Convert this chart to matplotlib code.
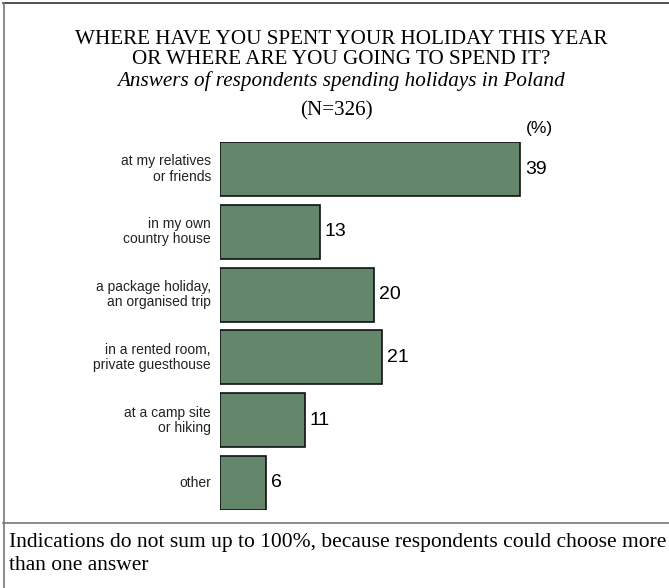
import matplotlib.pyplot as plt
from matplotlib.lines import Line2D

# survey answers, percent of respondents
answers = ['at my relatives\nor friends',
           'in my own\ncountry house',
           'a package holiday,\nan organised trip',
           'in a rented room,\nprivate guesthouse',
           'at a camp site\nor hiking',
           'other']
percent = [39, 13, 20, 21, 11, 6]

W, H = 669, 588
fig = plt.figure(figsize=(W / 100, H / 100), dpi=100)

def fx(px):
    return px / W

def fy(py):
    return 1 - py / H

# frame: top and left border, divider above the footnote
fig.add_artist(Line2D([fx(3), fx(669)], [fy(3), fy(3)], color='#333333', lw=1.2))
fig.add_artist(Line2D([fx(3.5), fx(3.5)], [fy(3), fy(588)], color='#777777', lw=1.2))
fig.add_artist(Line2D([fx(3), fx(669)], [fy(523), fy(523)], color='#777777', lw=1.2))

serif = 'Liberation Serif'
sans = 'Liberation Sans'
cx = fx(341)

fig.text(cx, fy(40), 'WHERE HAVE YOU SPENT YOUR HOLIDAY THIS YEAR',
         ha='center', va='center', family=serif, fontsize=15.2)
fig.text(cx, fy(60), 'OR WHERE ARE YOU GOING TO SPEND IT?',
         ha='center', va='center', family=serif, fontsize=15.2)
fig.text(cx, fy(81), 'Answers of respondents spending holidays in Poland',
         ha='center', va='center', family=serif, fontsize=15.2, style='italic')
fig.text(fx(336), fy(111), '(N=326)',
         ha='center', va='center', family=serif, fontsize=15.2)
fig.text(fx(539), fy(128), '(%)',
         ha='center', va='center', family=sans, fontsize=12.5)

# bar area
ax = fig.add_axes([fx(220), fy(510), fx(400), (510 - 142) / H])
pos = list(range(len(percent)))
ax.barh(pos, percent, height=0.86, color='#64866b', edgecolor='#111111', linewidth=1.2)
ax.set_xlim(0, 52)
ax.set_ylim(5.43, -0.43)
ax.axis('off')

for y, v, lab in zip(pos, percent, answers):
    ax.text(v + 0.65, y, str(v), ha='left', va='center', family=sans, fontsize=14)
    ax.annotate(lab, (0, y), xytext=(-6.5, 0), textcoords='offset points',
                ha='right', va='center', family=sans, fontsize=10, linespacing=1.1,
                color='#222222')

fig.text(fx(9), fy(542), 'Indications do not sum up to 100%, because respondents could choose more',
         ha='left', va='center', family=serif, fontsize=15.5)
fig.text(fx(9), fy(565), 'than one answer',
         ha='left', va='center', family=serif, fontsize=15.5)

fig.savefig('out.png', dpi=100)
